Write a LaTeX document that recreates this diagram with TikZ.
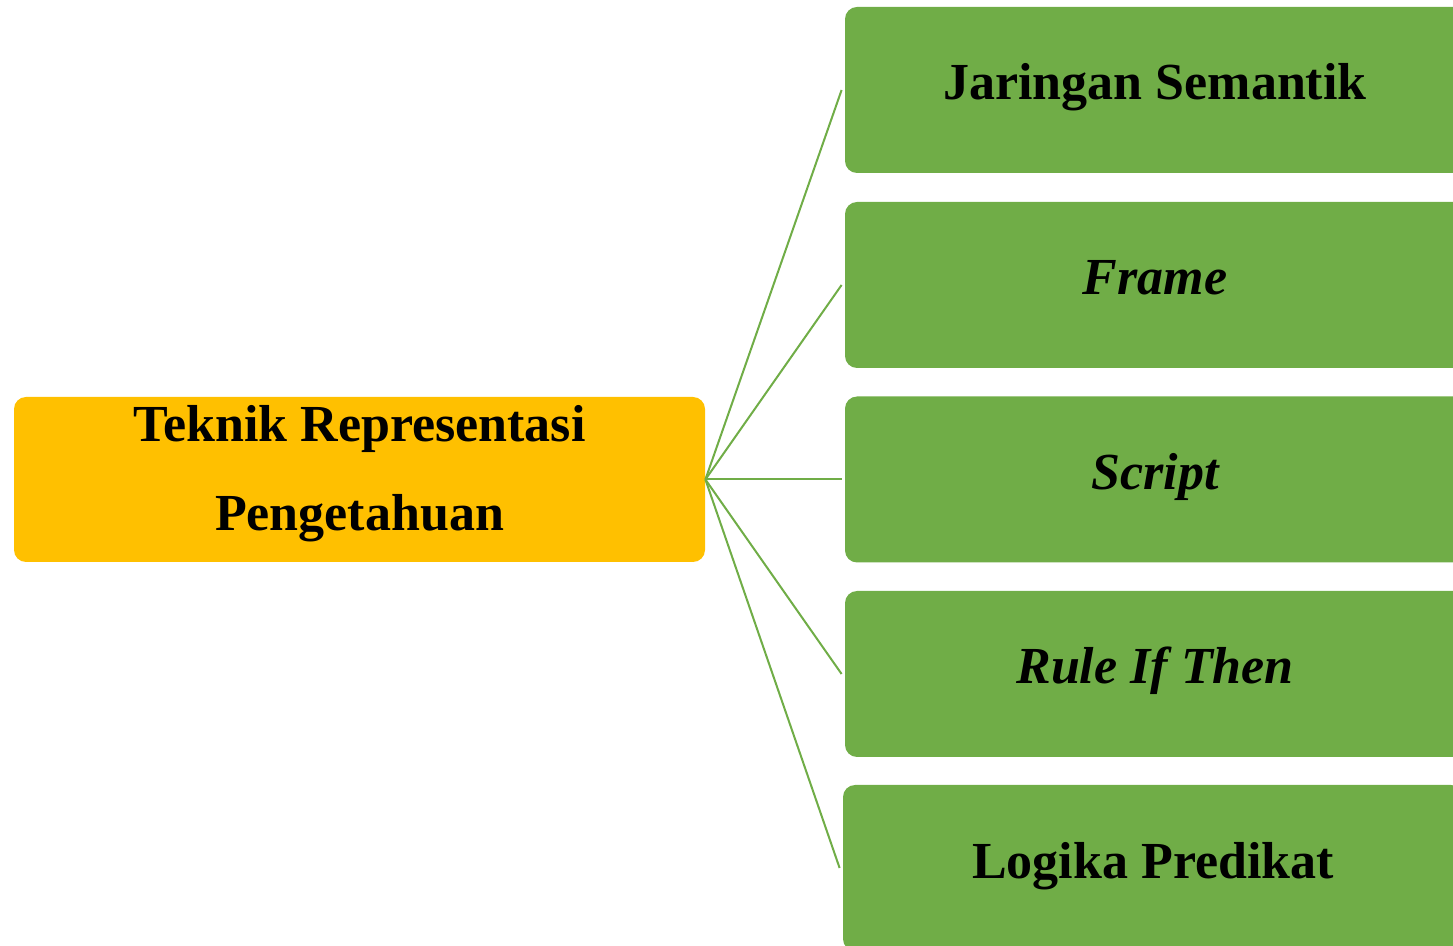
\documentclass[tikz,border=0pt]{standalone}
\usepackage{fontspec}
\setmainfont{Liberation Serif}
\definecolor{topicfill}{HTML}{FFC000}
\definecolor{itemfill}{HTML}{70AD47}
\begin{document}
\begin{tikzpicture}[x=0.5pt,y=-0.5pt,
  topicbox/.style={fill=topicfill, rounded corners=6pt, minimum width=345.5pt,
    minimum height=82.5pt, inner sep=0pt},
  topictext/.style={inner sep=0pt, align=center,
    font=\fontsize{26}{44.5}\selectfont\bfseries},
  itembox/.style={fill=itemfill, rounded corners=6pt, minimum width=310pt,
    minimum height=83pt, inner sep=0pt, align=center,
    text height=18pt, text depth=8pt,
    font=\fontsize{26}{31}\selectfont\bfseries},
  link/.style={draw=itemfill, line width=1pt}
]
\useasboundingbox (0,0) rectangle (1453,946);
\clip (0,0) rectangle (1453,946);

% central topic
\node[topicbox] (ctr) at (359.5,479.5) {};
\node[topictext] (ctrtext) at (359.5,474) {Teknik Representasi\\Pengetahuan};

% branches
\node[itembox] (jar) at (1155,90)  {Jaringan Semantik};
\node[itembox] (frm) at (1155,285) {\itshape Frame};
\node[itembox] (scr) at (1155,479.5) {\itshape Script};
\node[itembox] (rul) at (1155,674) {\itshape Rule If Then};
\node[itembox] (log) at (1153,868) {Logika Predikat};

% connectors
\foreach \b in {jar,frm,scr,rul,log}
  \draw[link] (ctr.east) -- ([xshift=-1.5pt]\b.west);
\end{tikzpicture}
\end{document}
